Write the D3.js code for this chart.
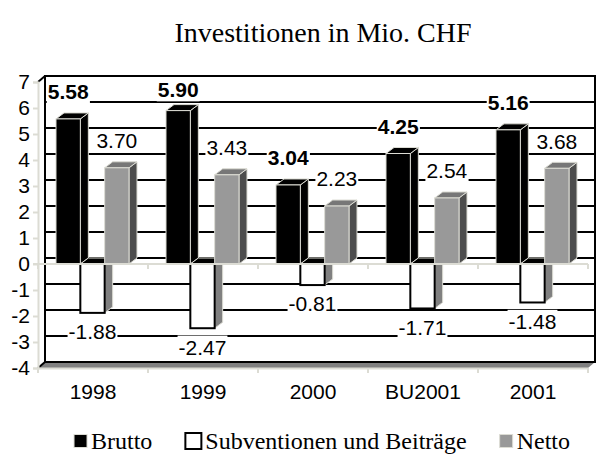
<!DOCTYPE html>
<html>
<head>
<meta charset="utf-8">
<script src="https://cdn.jsdelivr.net/npm/d3@7"></script>
<style>
  body { margin: 0; background: #fff; }
  text { font-family: "Liberation Sans", Arial, sans-serif; }
</style>
</head>
<body>
<div id="viz"></div>
<script>
// data
var categories = ["1998", "1999", "2000", "BU2001", "2001"];
var seriesNames = ["Brutto", "Subventionen und Beiträge", "Netto"];
var brutto = [5.58, 5.90, 3.04, 4.25, 5.16];
var subventionen = [-1.88, -2.47, -0.81, -1.71, -1.48];
var netto = [3.70, 3.43, 2.23, 2.54, 3.68];
var yTicks = [-4, -3, -2, -1, 0, 1, 2, 3, 4, 5, 6, 7];

(function() {
    var width = 596, height = 457;
    var svg = d3.select("#viz").append("svg")
        .attr("width", width)
        .attr("height", height);

    // front plane scales
    var x = d3.scaleBand().domain(categories).range([38, 588]);
    var xs = d3.scaleBand().domain(seriesNames).range([18, 91]);
    var y = d3.scaleLinear().domain([-4, 7]).range([368, 82]);

    // depth offsets (wall and bars)
    var DX = 7, DY = 6;
    var BDX = 8, BDY = 6;
    var light = "#dcdcd4";
    var serif = "'Liberation Serif', 'Times New Roman', serif";

    var series = [
        {name: seriesNames[0], values: brutto, front: "#000", side: "#000", top: "#000", stroke: light, bold: true, key: 13},
        {name: seriesNames[1], values: subventionen, front: "#fff", side: "#808080", top: "#000", stroke: "#000", bold: false, key: 16},
        {name: seriesNames[2], values: netto, front: "#999", side: "#4d4d4d", top: "#777", stroke: light, bold: false, key: 13}
    ];

    // title
    svg.append("text")
        .attr("x", 323).attr("y", 42)
        .attr("text-anchor", "middle")
        .style("font-family", serif)
        .style("font-size", "28px")
        .text("Investitionen in Mio. CHF");

    var xL = x.range()[0], xR = x.range()[1];
    var yTop = y(7), yBot = y(-4);

    // back wall
    svg.append("rect")
        .attr("x", xL + DX).attr("y", yTop - DY)
        .attr("width", xR - xL).attr("height", yBot - yTop)
        .attr("fill", "#fff");

    svg.selectAll(".grid")
        .data(yTicks)
        .enter().append("line")
        .attr("class", "grid")
        .attr("x1", xL + DX).attr("x2", xR + DX)
        .attr("y1", function(d) { return y(d) - DY; })
        .attr("y2", function(d) { return y(d) - DY; })
        .attr("stroke", "#000").attr("stroke-width", 2);

    // wall edges
    [xL + DX, xR + DX].forEach(function(px) {
        svg.append("line")
            .attr("x1", px).attr("x2", px)
            .attr("y1", yTop - DY - 1).attr("y2", yBot - DY + 1)
            .attr("stroke", "#000").attr("stroke-width", 2);
    });
    svg.append("line")
        .attr("x1", xL).attr("y1", yTop).attr("x2", xL + DX).attr("y2", yTop - DY)
        .attr("stroke", "#000").attr("stroke-width", 2);

    // floor
    svg.append("polygon")
        .attr("points", [[xL, yBot], [xL + DX, yBot - DY], [xR + DX, yBot - DY], [xR, yBot]].join(" "))
        .attr("fill", "#808080");
    svg.append("line")
        .attr("x1", xL).attr("y1", yBot).attr("x2", xL + DX).attr("y2", yBot - DY)
        .attr("stroke", "#000").attr("stroke-width", 2);
    svg.append("line")
        .attr("x1", xL + DX).attr("x2", xR + DX)
        .attr("y1", yBot - DY).attr("y2", yBot - DY)
        .attr("stroke", "#000").attr("stroke-width", 2);

    // value axis
    var yAxis = svg.append("g")
        .attr("transform", "translate(" + xL + ",0)")
        .call(d3.axisLeft(y).tickValues(yTicks).tickSize(5).tickPadding(3)
            .tickFormat(function(d) { return String(d); }));
    yAxis.select(".domain").attr("stroke", light).attr("stroke-width", 2);
    yAxis.selectAll(".tick line").attr("stroke", light).attr("stroke-width", 2);
    yAxis.selectAll("text").style("font-size", "21px").attr("fill", "#000");

    // category axis labels along the floor
    var xAxis = svg.append("g")
        .attr("transform", "translate(0," + yBot + ")")
        .call(d3.axisBottom(x).tickSize(0).tickPadding(16));
    xAxis.select(".domain").attr("stroke", light).attr("stroke-width", 2);
    xAxis.selectAll("text").style("font-size", "21px").attr("fill", "#000");

    var edges = categories.map(function(c) { return x(c); }).concat([xR]);
    svg.selectAll(".floortick")
        .data(edges)
        .enter().append("line")
        .attr("x1", function(d) { return d; }).attr("x2", function(d) { return d; })
        .attr("y1", yBot).attr("y2", yBot + 5)
        .attr("stroke", light).attr("stroke-width", 2);

    // bars
    var bars = svg.append("g");
    categories.forEach(function(cat, i) {
        series.forEach(function(s) {
            var v = s.values[i];
            var x0 = x(cat) + xs(s.name), w = xs.bandwidth();
            var ya = y(Math.max(v, 0)), yb = y(Math.min(v, 0));
            var g = bars.append("g");
            g.append("polygon")
                .attr("points", [[x0 + w, ya], [x0 + w + BDX, ya - BDY], [x0 + w + BDX, yb - BDY], [x0 + w, yb]].join(" "))
                .attr("fill", s.side).attr("stroke", light).attr("stroke-width", 1);
            g.append("polygon")
                .attr("points", [[x0, ya], [x0 + BDX, ya - BDY], [x0 + w + BDX, ya - BDY], [x0 + w, ya]].join(" "))
                .attr("fill", s.top).attr("stroke", light).attr("stroke-width", 1);
            g.append("rect")
                .attr("x", x0).attr("y", ya)
                .attr("width", w).attr("height", yb - ya)
                .attr("fill", s.front)
                .attr("stroke", s.stroke)
                .attr("stroke-width", s.stroke === "#000" ? 2 : 1);
        });
    });

    // zero line with category ticks
    svg.append("line")
        .attr("x1", xL - 5).attr("x2", xR)
        .attr("y1", y(0)).attr("y2", y(0))
        .attr("stroke", light).attr("stroke-width", 2);
    svg.selectAll(".zerotick")
        .data(edges)
        .enter().append("line")
        .attr("x1", function(d) { return d; }).attr("x2", function(d) { return d; })
        .attr("y1", y(0)).attr("y2", y(0) + 5)
        .attr("stroke", light).attr("stroke-width", 2);

    // data labels with white boxes
    var labels = svg.append("g");
    categories.forEach(function(cat, i) {
        series.forEach(function(s) {
            var v = s.values[i];
            var cx = x(cat) + xs(s.name) + xs.bandwidth() / 2;
            var cy = v >= 0 ? Math.max(y(v) - 27, yTop + 8) : y(v) + 19;
            var lg = labels.append("g");
            var t = lg.append("text")
                .attr("x", cx).attr("y", cy).attr("dy", "0.35em")
                .attr("text-anchor", "middle")
                .style("font-size", "21px")
                .style("font-weight", s.bold ? "bold" : "normal")
                .text(v.toFixed(2));
            var bb = t.node().getBBox();
            lg.insert("rect", "text")
                .attr("x", bb.x - 1).attr("y", bb.y)
                .attr("width", bb.width + 2).attr("height", bb.height)
                .attr("fill", "#fff");
        });
    });

    // legend, centred under the chart
    var legend = svg.append("g").attr("transform", "translate(0,441)");
    var items = series.map(function(s) {
        var item = legend.append("g");
        item.append("rect")
            .attr("x", 0).attr("y", -s.key / 2).attr("width", s.key).attr("height", s.key)
            .attr("fill", s.front)
            .attr("stroke", s.stroke === "#000" ? "#000" : light)
            .attr("stroke-width", s.stroke === "#000" ? 2 : 1);
        var t = item.append("text")
            .attr("x", s.key + 4).attr("y", 0).attr("dy", "0.33em")
            .style("font-family", serif)
            .style("font-size", "24px")
            .text(s.name);
        return {g: item, w: s.key + 4 + t.node().getComputedTextLength()};
    });
    var gap = 33;
    var total = d3.sum(items, function(d) { return d.w; }) + gap * (items.length - 1);
    var lx = 322 - total / 2;
    items.forEach(function(it) {
        it.g.attr("transform", "translate(" + lx + ",0)");
        lx += it.w + gap;
    });
})();
</script>
</body>
</html>
